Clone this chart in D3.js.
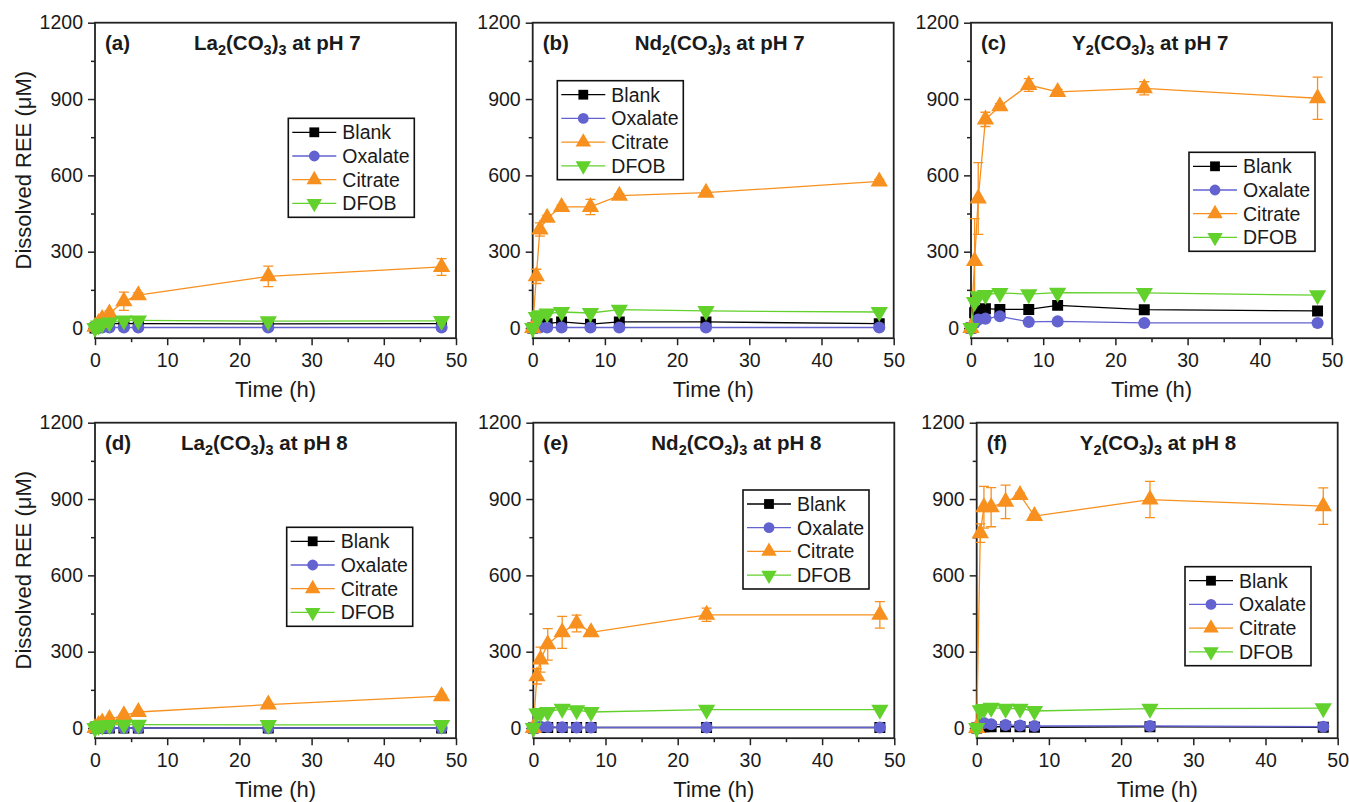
<!DOCTYPE html>
<html><head><meta charset="utf-8">
<script src="https://cdn.jsdelivr.net/npm/d3@7"></script>
<style>
body{margin:0;background:#fff;}
text{font-family:"Liberation Sans",Arial,Helvetica,sans-serif;fill:#1a1a1a;}
</style>
</head><body>
<svg id="chart" width="1349" height="802"></svg>
<script>
// ---------- shared labels / ticks ----------
const seriesNames = ["Blank", "Oxalate", "Citrate", "DFOB"];
const seriesColors = ["#000000", "#6262D0", "#F7901E", "#62D12C"];
const xTicks = [0, 10, 20, 30, 40, 50];
const xMinorTicks = [5, 15, 25, 35, 45];
const yTicks = [0, 300, 600, 900, 1200];
const yMinorTicks = [150, 450, 750, 1050];
const panelLabels = ["(a)", "(b)", "(c)", "(d)", "(e)", "(f)"];
const panelMetals = ["La", "Nd", "Y", "La", "Nd", "Y"];
const panelPH = ["7", "7", "7", "8", "8", "8"];

// ---------- (a) La2(CO3)3 pH 7 ----------
const timeA = [0, 0.5, 1, 2, 4, 6, 24, 48];
const blankA = [0, 10, 14, 17, 18, 17, 16, 17];
const oxalateA = [0, 2, 2, 2, 2, 2, 2, 2];
const citrateA = [5, 20, 35, 57, 105, 129, 203, 240];
const citrateErrA = [0, 5, 8, 10, 36, 10, 40, 33];
const dfobA = [0, 10, 17, 22, 30, 30, 27, 28];

// ---------- (b) Nd2(CO3)3 pH 7 ----------
const timeB = [0, 0.5, 1, 2, 4, 8, 12, 24, 48];
const blankB = [0, 12, 15, 17, 24, 15, 24, 24, 17];
const oxalateB = [0, 2, 2, 2, 2, 2, 2, 2, 2];
const citrateB = [0, 203, 387, 433, 476, 476, 520, 532, 576];
const citrateErrB = [0, 28, 26, 10, 8, 30, 8, 8, 8];
const dfobB = [0, 43, 50, 57, 63, 59, 72, 67, 63];

// ---------- (c) Y2(CO3)3 pH 7 ----------
const timeC = [0, 0.5, 1, 2, 4, 8, 12, 24, 48];
const blankC = [0, 60, 70, 76, 73, 73, 89, 72, 67];
const oxalateC = [0, 20, 33, 37, 46, 24, 26, 20, 20];
const citrateC = [0, 263, 509, 820, 872, 955, 928, 942, 903];
const citrateErrC = [0, 167, 141, 28, 10, 25, 10, 26, 83];
const dfobC = [0, 102, 125, 130, 138, 133, 139, 138, 129];

// ---------- (d) La2(CO3)3 pH 8 ----------
const timeD = [0, 0.5, 1, 2, 4, 6, 24, 48];
const blankD = [0, 0, 0, 0, 0, 0, 0, 0];
const oxalateD = [0, 0, 0, 0, 0, 0, 0, 0];
const citrateD = [0, 12, 22, 35, 50, 63, 92, 125];
const citrateErrD = [0, 3, 3, 4, 5, 5, 6, 6];
const dfobD = [0, 8, 10, 12, 13, 13, 12, 12];

// ---------- (e) Nd2(CO3)3 pH 8 ----------
const timeE = [0, 0.5, 1, 2, 4, 6, 8, 24, 48];
const blankE = [0, 2, 2, 2, 2, 2, 2, 2, 2];
const oxalateE = [0, 3, 5, 4, 3, 2, 2, 2, 2];
const citrateE = [0, 203, 269, 329, 376, 411, 376, 445, 445];
const citrateErrE = [0, 30, 49, 62, 63, 33, 8, 26, 52];
const dfobE = [0, 57, 59, 63, 76, 70, 63, 72, 72];

// ---------- (f) Y2(CO3)3 pH 8 ----------
const timeF = [0, 0.5, 1, 2, 4, 6, 8, 24, 48];
const blankF = [0, 3, 5, 5, 5, 5, 3, 5, 3];
const oxalateF = [0, 15, 20, 15, 12, 10, 8, 8, 5];
const citrateF = [0, 766, 868, 868, 889, 916, 833, 898, 872];
const citrateErrF = [0, 36, 82, 77, 66, 8, 8, 71, 72];
const dfobF = [0, 70, 75, 80, 76, 76, 67, 76, 78];

const panelData = [
  {t: timeA, s: [blankA, oxalateA, citrateA, dfobA], e: [null, null, citrateErrA, null]},
  {t: timeB, s: [blankB, oxalateB, citrateB, dfobB], e: [null, null, citrateErrB, null]},
  {t: timeC, s: [blankC, oxalateC, citrateC, dfobC], e: [null, null, citrateErrC, null]},
  {t: timeD, s: [blankD, oxalateD, citrateD, dfobD], e: [null, null, citrateErrD, null]},
  {t: timeE, s: [blankE, oxalateE, citrateE, dfobE], e: [null, null, citrateErrE, null]},
  {t: timeF, s: [blankF, oxalateF, citrateF, dfobF], e: [null, null, citrateErrF, null]}
];

// ---------- layout ----------
const W = 361, H = 315.5;
const layout = [
  {x: 95,    y: 22.7,  lx: 288.3,  ly: 118.3, tx: 99,  yTitle: true},
  {x: 532.7, y: 22.7,  lx: 557.3,  ly: 80.7,  tx: 102, yTitle: false},
  {x: 971,   y: 22.7,  lx: 1189,   ly: 152.3, tx: 101, yTitle: false},
  {x: 95,    y: 422.7, lx: 286.7,  ly: 527.3, tx: 86,  yTitle: true},
  {x: 533.3, y: 422.7, lx: 743,    ly: 490,   tx: 118, yTitle: false},
  {x: 976.7, y: 422.7, lx: 1185,   ly: 566.7, tx: 103, yTitle: false}
];

const svg = d3.select("#chart");
const xScale = d3.scaleLinear().domain([0, 50]).range([0, W]);
const yScale = d3.scaleLinear().domain([-40, 1200]).range([H, 0]);

function symbolPath(i, scale) {
  const k = scale || 1;
  if (i === 0) return d3.symbol().type(d3.symbolSquare).size(120 * k)();
  if (i === 1) return d3.symbol().type(d3.symbolCircle).size(115 * k)();
  return d3.symbol().type(d3.symbolTriangle).size(130 * k)();
}
function symbolTransform(i, x, y) {
  return i === 3 ? `translate(${x},${y}) rotate(180)` : `translate(${x},${y})`;
}

panelData.forEach((pd, p) => {
  const L = layout[p];
  const g = svg.append("g").attr("transform", `translate(${L.x},${L.y})`);

  g.append("clipPath").attr("id", "clip" + p)
    .append("rect").attr("x", -10).attr("y", 0).attr("width", W + 20).attr("height", H);

  // axes
  g.append("g").attr("transform", `translate(0,${H})`)
    .call(d3.axisBottom(xScale).tickValues(xTicks).tickFormat(d3.format("d"))
      .tickSize(7).tickPadding(8).tickSizeOuter(0));
  g.append("g").attr("transform", `translate(0,${H})`)
    .call(d3.axisBottom(xScale).tickValues(xMinorTicks).tickSize(4).tickFormat("").tickSizeOuter(0));
  g.append("g")
    .call(d3.axisLeft(yScale).tickValues(yTicks).tickFormat(d3.format("d"))
      .tickSize(7).tickPadding(5).tickSizeOuter(0));
  g.append("g")
    .call(d3.axisLeft(yScale).tickValues(yMinorTicks).tickSize(4).tickFormat("").tickSizeOuter(0));
  g.selectAll(".domain").remove();
  g.selectAll(".tick line").attr("stroke", "#222").attr("stroke-width", 1.5);
  g.selectAll(".tick text").attr("font-size", 19.5).attr("fill", "#1a1a1a")
    .attr("font-family", '"Liberation Sans",Arial,sans-serif');

  // frame
  g.append("rect").attr("width", W).attr("height", H)
    .attr("fill", "none").attr("stroke", "#222").attr("stroke-width", 1.8);

  // series
  const plot = g.append("g").attr("clip-path", `url(#clip${p})`);
  pd.s.forEach((vals, i) => {
    const pts = pd.t.map((t, j) => ({t, v: vals[j], e: pd.e[i] ? pd.e[i][j] : 0}));
    const col = seriesColors[i];
    plot.append("path").datum(pts)
      .attr("fill", "none").attr("stroke", col).attr("stroke-width", 1.3)
      .attr("d", d3.line().x(d => xScale(d.t)).y(d => yScale(d.v)));
    const eb = plot.append("g").attr("stroke", col).attr("stroke-width", 1.3);
    pts.filter(d => d.e > 0).forEach(d => {
      const x = xScale(d.t), y1 = yScale(d.v + d.e), y2 = yScale(d.v - d.e);
      eb.append("line").attr("x1", x).attr("x2", x).attr("y1", y1).attr("y2", y2);
      eb.append("line").attr("x1", x - 5).attr("x2", x + 5).attr("y1", y1).attr("y2", y1);
      eb.append("line").attr("x1", x - 5).attr("x2", x + 5).attr("y1", y2).attr("y2", y2);
    });
    plot.append("g").selectAll("path").data(pts).join("path")
      .attr("d", symbolPath(i))
      .attr("transform", d => symbolTransform(i, xScale(d.t), yScale(d.v)))
      .attr("fill", col);
  });

  // panel label and title
  g.append("text").attr("x", 10).attr("y", 27.5)
    .attr("font-size", 20.5).attr("font-weight", "bold").text(panelLabels[p]);
  const title = g.append("text").attr("x", L.tx).attr("y", 27.5)
    .attr("font-size", 20.5).attr("font-weight", "bold");
  title.append("tspan").text(panelMetals[p]);
  title.append("tspan").attr("dy", 5).attr("font-size", 14.5).text("2");
  title.append("tspan").attr("dy", -5).text("(CO");
  title.append("tspan").attr("dy", 5).attr("font-size", 14.5).text("3");
  title.append("tspan").attr("dy", -5).text(")");
  title.append("tspan").attr("dy", 5).attr("font-size", 14.5).text("3");
  title.append("tspan").attr("dy", -5).text(" at pH " + panelPH[p]);

  // axis titles
  g.append("text").attr("x", W / 2).attr("y", H + 58.5)
    .attr("text-anchor", "middle").attr("font-size", 22).text("Time (h)");
  if (L.yTitle) {
    g.append("text").attr("transform", `translate(${31 - L.x},${147.5}) rotate(-90)`)
      .attr("text-anchor", "middle").attr("font-size", 22).text("Dissolved REE (\u03BCM)");
  }

  // legend
  const lg = svg.append("g").attr("transform", `translate(${L.lx},${L.ly})`);
  lg.append("rect").attr("width", 126).attr("height", 99)
    .attr("fill", "#fff").attr("stroke", "#111").attr("stroke-width", 1.6);
  seriesNames.forEach((name, i) => {
    const yy = 14 + i * 23.7;
    lg.append("line").attr("x1", 4).attr("x2", 48).attr("y1", yy).attr("y2", yy)
      .attr("stroke", seriesColors[i]).attr("stroke-width", 1.3);
    lg.append("path").attr("d", symbolPath(i, 0.8))
      .attr("transform", symbolTransform(i, 26, yy)).attr("fill", seriesColors[i]);
    lg.append("text").attr("x", 54).attr("y", yy).attr("dy", "0.36em")
      .attr("font-size", 19.5).text(name);
  });
});
</script>
</body></html>
